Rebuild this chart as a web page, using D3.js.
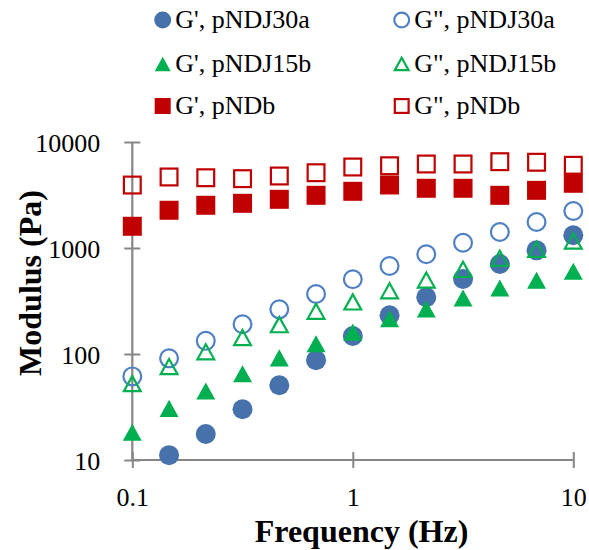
<!DOCTYPE html>
<html><head><meta charset="utf-8">
<script src="https://cdn.jsdelivr.net/npm/d3@7"></script>
<style>html,body{margin:0;padding:0;background:#fff;}svg{display:block;}</style>
</head><body>
<svg id="chart" width="589" height="550"></svg>
<script>
const frequency = [0.1, 0.1468, 0.2154, 0.3162, 0.4642, 0.6813, 1, 1.468, 2.154, 3.162, 4.642, 6.813, 10];
const gp_pNDJ30a  = [null, 11.1, 17.6, 30.1, 50.7, 87.5, 148, 232, 343, 510, 706, 951, 1318];
const gpp_pNDJ30a = [61.5, 91, 133, 191, 264, 368, 507, 676, 873, 1122, 1416, 1760, 2234];
const gp_pNDJ15b  = [18.3, 30.7, 44.8, 65.2, 92, 125, 161, 215, 266, 338, 420, 496, 603];
const gpp_pNDJ15b = [52.5, 76, 105, 143, 189, 253, 310, 395, 499, 629, 800, 972, 1164];
const gp_pNDb     = [1603, 2270, 2530, 2640, 2880, 3140, 3427, 3930, 3660, 3660, 3140, 3500, 4080];
const gpp_pNDb    = [3926, 4677, 4600, 4510, 4777, 5130, 5808, 5970, 6200, 6200, 6520, 6440, 6030];
const xTicks = [0.1, 1, 10];
const xTickLabels = ["0.1", "1", "10"];
const yTicks = [10, 100, 1000, 10000];
const yTickLabels = ["10", "100", "1000", "10000"];
const seriesNames = ["G', pNDJ30a", "G\", pNDJ30a", "G', pNDJ15b", "G\", pNDJ15b", "G', pNDb", "G\", pNDb"];

const series = [
  {name: seriesNames[0], values: gp_pNDJ30a,  shape: "circle",   filled: true,  color: "#4671AA"},
  {name: seriesNames[1], values: gpp_pNDJ30a, shape: "circle",   filled: false, color: "#4F80C4"},
  {name: seriesNames[2], values: gp_pNDJ15b,  shape: "triangle", filled: true,  color: "#00B050"},
  {name: seriesNames[3], values: gpp_pNDJ15b, shape: "triangle", filled: false, color: "#00B050"},
  {name: seriesNames[4], values: gp_pNDb,     shape: "square",   filled: true,  color: "#C00000"},
  {name: seriesNames[5], values: gpp_pNDb,    shape: "square",   filled: false, color: "#C00000"}
];

const svg = d3.select("#chart");
const x = d3.scaleLog().domain([0.1, 10]).range([132.3, 573.3]);
const y = d3.scaleLog().domain([10, 10000]).range([460, 142]);
const axisColor = "#868686";
const serif = "'Liberation Serif','Times New Roman',serif";

// Axes
const xAxis = svg.append("g").attr("transform", "translate(0,460)")
  .call(d3.axisBottom(x).tickValues(xTicks).tickFormat((d,i)=>xTickLabels[i]).tickSizeInner(8).tickSizeOuter(0).tickPadding(20));
xAxis.select(".domain").attr("stroke", axisColor).attr("stroke-width", 2.2).attr("d", `M${x(0.1)},0H${x(10)}`);
xAxis.selectAll(".tick line").attr("stroke", axisColor).attr("stroke-width", 2).attr("y1", -8).attr("y2", 8);
xAxis.selectAll(".tick text").attr("font-family", serif).attr("font-size", 26).attr("fill", "#000").attr("dy", "0.71em");

const yAxis = svg.append("g").attr("transform", "translate(132.3,0)")
  .call(d3.axisLeft(y).tickValues(yTicks).tickFormat((d,i)=>yTickLabels[i]).tickSizeInner(8).tickSizeOuter(0).tickPadding(24));
yAxis.select(".domain").attr("stroke", axisColor).attr("stroke-width", 2.2).attr("d", `M0,${y(10)}V${y(10000)}`);
yAxis.selectAll(".tick line").attr("stroke", axisColor).attr("stroke-width", 2).attr("x1", -8).attr("x2", 8);
yAxis.selectAll(".tick text").attr("font-family", serif).attr("font-size", 26).attr("fill", "#000").attr("dy", "0.35em");

// Axis titles
svg.append("text").attr("x", 361.5).attr("y", 542).attr("text-anchor", "middle")
  .attr("font-family", serif).attr("font-weight", "bold").attr("font-size", 32).text("Frequency (Hz)");
svg.append("text").attr("transform", "translate(41,283) rotate(-90)").attr("text-anchor", "middle")
  .attr("font-family", serif).attr("font-weight", "bold").attr("font-size", 32).text("Modulus (Pa)");

function drawMarker(g, shape, filled, color, size) {
  const sw = 2.2;
  if (shape === "circle") {
    const r = filled ? size/2 : size/2 - sw/2;
    g.append("circle").attr("r", r)
      .attr("fill", filled ? color : "none").attr("stroke", filled ? "none" : color).attr("stroke-width", sw);
  } else if (shape === "square") {
    const s = filled ? size : size - sw;
    g.append("rect").attr("x", -s/2).attr("y", -s/2).attr("width", s).attr("height", s)
      .attr("fill", filled ? color : "none").attr("stroke", filled ? "none" : color).attr("stroke-width", sw);
  } else {
    const w = filled ? size : size - sw, h = w * 0.9;
    g.append("path").attr("d", `M0,${-h/2}L${w/2},${h/2}L${-w/2},${h/2}Z`)
      .attr("fill", filled ? color : "none").attr("stroke", filled ? "none" : color).attr("stroke-width", sw);
  }
}

// Points
series.forEach(s => {
  const g = svg.append("g");
  s.values.forEach((v, i) => {
    if (v == null) return;
    const m = g.append("g").attr("transform", `translate(${x(frequency[i])},${y(v)})`);
    drawMarker(m, s.shape, s.filled, s.color, s.shape === "circle" ? 20 : 19);
  });
});

// Legend
const legCols = [162.7, 401.7];
const legRows = [20, 64, 106];
series.forEach((s, i) => {
  const col = i % 2, row = Math.floor(i / 2);
  const m = svg.append("g").attr("transform", `translate(${legCols[col]},${legRows[row]})`);
  drawMarker(m, s.shape, s.filled, s.color, s.shape === "circle" ? 17 : 16);
  svg.append("text").attr("x", legCols[col] + 12.5).attr("y", legRows[row] + 8)
    .attr("font-family", serif).attr("font-size", 26).attr("fill", "#000").text(s.name);
});
</script>
</body></html>
